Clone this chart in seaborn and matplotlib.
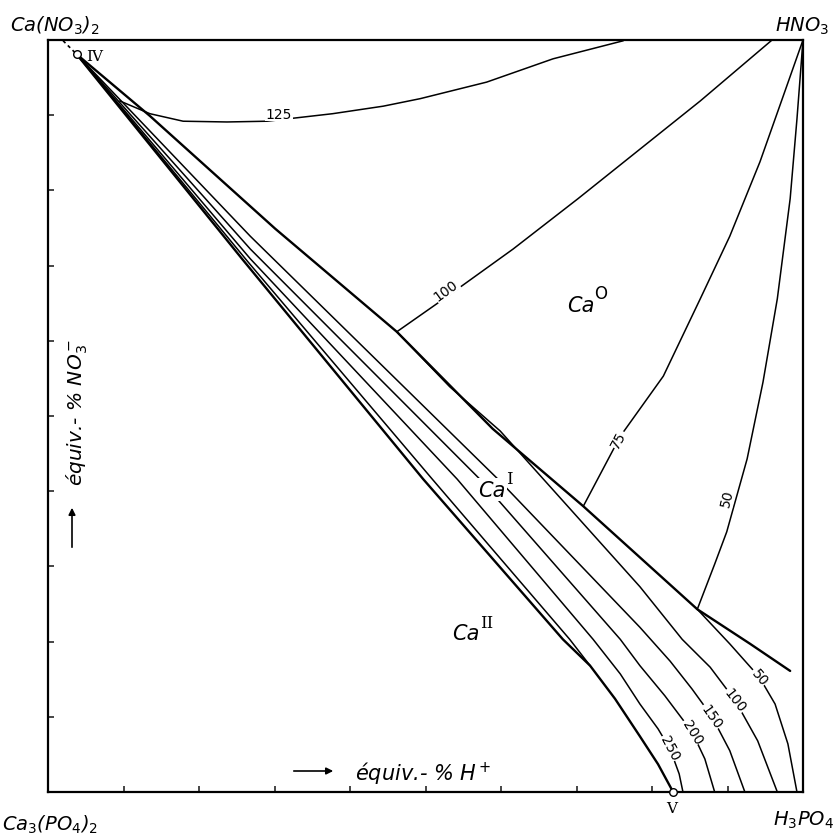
import matplotlib
matplotlib.use("Agg")
import matplotlib.pyplot as plt
import seaborn as sns

# -------------------- DATOS (equiv.-% H+ , equiv.-% NO3-) --------------------
# frontera Ca0 / CaI
borde_a_x = [3.8, 13.5, 30.1, 46.2, 58.9, 70.9, 86.0, 93.0, 98.3]
borde_a_y = [98.1, 89.9, 74.9, 61.2, 48.3, 38.0, 24.3, 19.7, 16.1]
# frontera CaI / CaII (termina en V)
borde_b_x = [3.8, 25.7, 49.7, 68.2, 71.8, 75.1, 78.4, 80.8, 82.8]
borde_b_y = [98.1, 70.9, 41.6, 20.3, 16.8, 12.4, 7.4, 3.7, 0.0]
# linea paralela a la frontera CaI / CaII
borde_c_x = [3.8, 26.4, 50.9, 69.1, 71.8]
borde_c_y = [98.1, 70.6, 41.6, 20.3, 16.8]

# isotermas en el campo CaI
iso250_x = [3.8, 26.8, 54.2, 72.2, 75.8, 78.4, 80.8, 82.4, 83.6, 84.1]
iso250_y = [98.1, 70.9, 41.6, 20.3, 15.7, 11.7, 8.4, 5.7, 2.4, 0.0]
iso200_x = [3.8, 26.8, 57.2, 75.8, 78.4, 81.7, 85.3, 87.0, 88.3]
iso200_y = [98.1, 72.2, 41.6, 20.3, 16.8, 12.8, 8.0, 4.4, 0.0]
iso150_x = [3.8, 26.8, 59.6, 78.4, 82.4, 85.3, 87.9, 90.3, 92.3]
iso150_y = [98.1, 73.9, 41.6, 21.9, 17.4, 13.7, 10.1, 5.5, 0.0]
iso100b_x = [46.2, 53.2, 59.9, 78.4, 84.0, 87.7, 91.0, 94.0, 96.6]
iso100b_y = [61.2, 53.9, 48.0, 27.3, 20.3, 16.6, 12.2, 6.8, 0.0]
iso50b_x = [86.0, 90.3, 94.2, 96.3, 98.0, 99.2]
iso50b_y = [24.3, 19.7, 15.3, 11.7, 6.4, 0.0]

# isotermas en el campo Ca0
iso125_x = [9.5, 13.5, 17.9, 23.7, 29.0, 37.7, 44.4, 49.3, 58.1, 66.9, 76.2]
iso125_y = [91.9, 90.2, 89.2, 89.1, 89.2, 90.2, 91.2, 92.2, 94.4, 97.5, 99.9]
iso100a_x = [46.2, 52.6, 61.6, 70.2, 86.4, 95.9]
iso100a_y = [61.2, 65.7, 72.2, 78.9, 91.9, 100.0]
iso75_x = [70.9, 75.8, 81.5, 86.4, 90.3, 94.3, 97.4, 100.0]
iso75_y = [38.0, 47.3, 55.3, 65.6, 73.9, 83.8, 92.6, 100.0]
iso50a_x = [86.0, 88.3, 89.9, 92.6, 94.7, 96.6, 98.3, 99.2, 100.0]
iso50a_y = [24.3, 30.3, 34.6, 44.3, 54.5, 65.6, 78.9, 89.5, 100.0]

# puntos invariantes IV y V
punto_x = [3.8, 82.8]
punto_y = [98.1, 0.0]
punto_txt = ['IV', 'V']

# etiquetas de isotermas: texto, x, y, rotacion
iso_txt = ['125', '100', '75', '50', '250', '200', '150', '100', '50']
iso_txt_x = [30.6, 52.7, 75.5, 89.9, 82.4, 85.3, 87.9, 91.0, 94.2]
iso_txt_y = [90.2, 66.8, 46.9, 39.1, 5.9, 8.0, 10.1, 12.2, 15.3]
iso_txt_rot = [0, 36, 62, 76, -62, -58, -55, -52, -50]

# -------------------- GRAFICA --------------------
sns.set_style("white")
plt.rcParams['font.family'] = ['DejaVu Sans']
plt.rcParams['mathtext.default'] = 'it'
plt.rcParams['text.color'] = 'black'

W, H = 840, 837
fig = plt.figure(figsize=(8.4, 8.37), dpi=100)
ax = fig.add_axes([48 / W, 1 - 793 / H, 755 / W, 752 / H])

gruesas = [(borde_a_x, borde_a_y), (borde_b_x, borde_b_y)]
delgadas = [(borde_c_x, borde_c_y), (iso250_x, iso250_y), (iso200_x, iso200_y),
            (iso150_x, iso150_y), (iso100b_x, iso100b_y), (iso50b_x, iso50b_y),
            (iso125_x, iso125_y), (iso100a_x, iso100a_y), (iso75_x, iso75_y),
            (iso50a_x, iso50a_y)]
for xs, ys in gruesas:
    sns.lineplot(x=xs, y=ys, sort=False, estimator=None, color='black', linewidth=1.7, ax=ax)
for xs, ys in delgadas:
    sns.lineplot(x=xs, y=ys, sort=False, estimator=None, color='black', linewidth=1.1, ax=ax)

# tramo discontinuo hacia Ca(NO3)2
ax.plot([2.0, punto_x[0]], [99.9, punto_y[0]], color='black', lw=1.2, ls=(0, (2, 2)), clip_on=False)
sns.scatterplot(x=punto_x, y=punto_y, s=30, facecolor='white', edgecolor='black',
                linewidth=1.0, zorder=5, clip_on=False, ax=ax)

ax.text(6.2, 97.9, punto_txt[0], family='DejaVu Serif', fontsize=11, ha='center', va='center')
ax.text(82.6, -2.1, punto_txt[1], family='DejaVu Serif', fontsize=11, ha='center', va='center')

for t, x, y, r in zip(iso_txt, iso_txt_x, iso_txt_y, iso_txt_rot):
    ax.text(x, y, t, fontsize=10, ha='center', va='center', rotation=r, rotation_mode='anchor',
            bbox=dict(facecolor='white', edgecolor='none', pad=0.5))

# campos
for base, sup, x, y in [('Ca', 'O', 68.7, 64.0), ('Ca', 'I', 57.0, 39.4), ('Ca', 'II', 53.5, 20.3)]:
    ax.text(x, y, base, fontsize=15, style='italic', ha='left', va='baseline',
            bbox=dict(facecolor='white', edgecolor='none', pad=1))
    ax.annotate(sup, xy=(x, y), xytext=(20, 9), textcoords='offset points', fontsize=12,
                family='DejaVu Serif' if sup != 'O' else 'DejaVu Sans', ha='left', va='baseline')

ax.set_xlim(0, 100)
ax.set_ylim(0, 100)
ax.set_xticks(range(10, 100, 10))
ax.set_yticks(range(10, 100, 10))
ax.tick_params(direction='in', length=4, width=1.2, labelbottom=False, labelleft=False,
               bottom=True, left=True)
for s in ax.spines.values():
    s.set_linewidth(1.6)
    s.set_color('black')

# vertices
fig.text(10 / W, 1 - 32 / H, r'Ca(NO$_3$)$_2$', fontsize=14, style='italic', va='baseline')
fig.text(775 / W, 1 - 32 / H, r'HNO$_3$', fontsize=14, style='italic', va='baseline')
fig.text(2 / W, 1 - 831 / H, r'Ca$_3$(PO$_4$)$_2$', fontsize=14, style='italic', va='baseline')
fig.text(773 / W, 1 - 826 / H, r'H$_3$PO$_4$', fontsize=14, style='italic', va='baseline')

# ejes
fig.text(355 / W, 1 - 781 / H, r'équiv.- % H$^+$', fontsize=15, style='italic', va='baseline')
ax.annotate('', xy=(336, H - 772), xytext=(291, H - 772), xycoords='figure pixels',
            textcoords='figure pixels', arrowprops=dict(arrowstyle='-|>', color='black', lw=1.2))
fig.text(77 / W, 1 - 412 / H, r'équiv.- % NO$_3^-$', fontsize=14.5, style='italic',
         rotation=90, ha='center', va='center')
ax.annotate('', xy=(72, H - 506), xytext=(72, H - 551), xycoords='figure pixels',
            textcoords='figure pixels', arrowprops=dict(arrowstyle='-|>', color='black', lw=1.2))

fig.savefig('out.png', dpi=100)
